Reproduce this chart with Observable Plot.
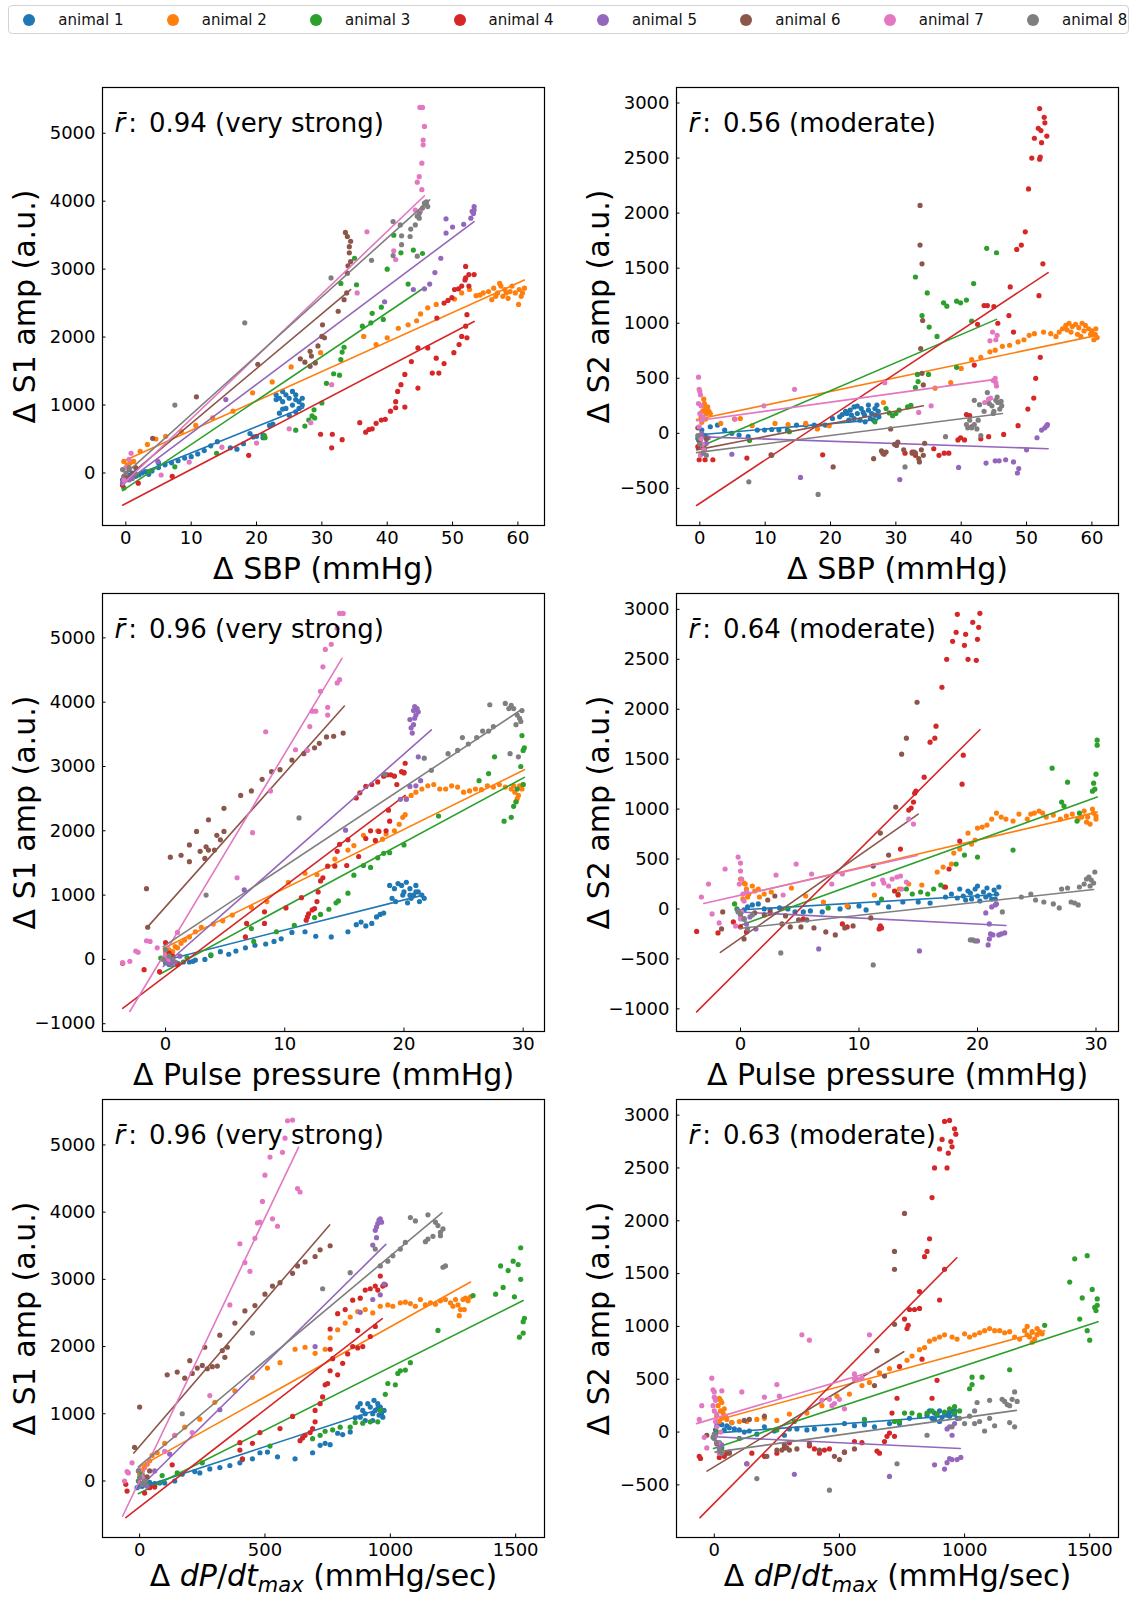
<!DOCTYPE html>
<html><head><meta charset="utf-8">
<script src="https://cdn.jsdelivr.net/npm/d3@7"></script>
<script src="https://cdn.jsdelivr.net/npm/@observablehq/plot@0.6"></script>
<style>
body{margin:0;background:#fff;font-family:"DejaVu Sans",sans-serif;}
#wrap{position:relative;width:1143px;height:1597px;overflow:hidden;}
#legend{position:absolute;left:8px;top:5px;width:1121px;height:29px;border:1px solid #d3d3d3;border-radius:4px;box-sizing:border-box;}
.item{position:absolute;top:0;height:27px;display:flex;align-items:center;font-size:15px;color:#111;white-space:nowrap;}
.dot{width:12px;height:12px;border-radius:50%;display:inline-block;margin-right:23px;}
.panel{position:absolute;width:564px;}
</style></head>
<body><div id="wrap"><div id="legend"></div></div>
<script>
const animals = ["animal 1","animal 2","animal 3","animal 4","animal 5","animal 6","animal 7","animal 8"];
const colors = ["#1f77b4","#ff7f0e","#2ca02c","#d62728","#9467bd","#8c564b","#e377c2","#7f7f7f"];

const xLabels = ["Δ SBP (mmHg)", "Δ Pulse pressure (mmHg)", "Δ dP/dt_max (mmHg/sec)"];
const yLabels = ["Δ S1 amp (a.u.)", "Δ S2 amp (a.u.)"];
const rValues = ["0.94 (very strong)", "0.56 (moderate)", "0.96 (very strong)", "0.64 (moderate)", "0.96 (very strong)", "0.63 (moderate)"];

const ticksSBP = [0,10,20,30,40,50,60];
const ticksPP = [0,10,20,30];
const ticksDP = [0,500,1000,1500];
const ticksS1a = [0,1000,2000,3000,4000,5000];
const ticksS1b = [-1000,0,1000,2000,3000,4000,5000];
const ticksS2a = [-500,0,500,1000,1500,2000,2500,3000];
const ticksS2b = [-1000,-500,0,500,1000,1500,2000,2500,3000];

// ---------- Panel 1: ΔSBP vs ΔS1 (flat x,y pairs per animal) ----------
const sbpS1Pts = [
[-0.5,-100,0,-50,0.5,-30,1,0,1.5,-50,2,-30,2.5,0,3,20,3.5,-20,4,30,5,80,5,150,6,120,7,150,8,180,9,220,10,240,11,280,12,330,13,400,14,460,16,370,17,350,18,430,19,580,19.5,530,20,540,21,520,21,560,22,700,22.5,720,23,1080,23,1150,23.5,1100,24,1200,24,1050,24.5,1150,24.5,950,25,1100,25,850,25.5,1200,25.5,1000,26,1080,26,900,26.5,1050,26.5,950,27,1000,27,1100,23.5,880,24,940,26,1150],
[-0.3,170,0.2,120,0.7,150,1.2,170,2.2,320,3.3,420,4.6,500,6.1,540,8.5,610,10.7,700,13.3,810,16.4,910,19.4,1180,22.4,1340,25.3,1560,29.8,1770,36.4,2010,38.3,1890,40,1990,41.7,2130,43.2,2180,44.5,2240,45.1,2340,46.2,2430,47.5,2480,50.3,2560,51.4,2650,52.6,2700,53.6,2610,54.2,2620,54.7,2650,55.5,2670,56,2550,56.3,2720,56.6,2600,56.9,2650,57.2,2790,57.4,2750,57.7,2600,58,2700,58.2,2650,58.5,2570,58.8,2670,59.1,2750,59.6,2650,60.1,2480,60.2,2700,60.5,2600,60.7,2650,61,2720],
[-0.3,-220,0.5,-100,1.6,-25,3.6,25,7.5,90,13.9,290,21.2,550,21.3,520,26,630,27.4,690,28,780,28.5,840,28.8,930,28.9,810,30,1030,30.7,1320,31.8,1460,32.7,1440,32.9,1670,33.1,1780,33.4,1850,32.9,2790,35,3160,35.3,2770,36.2,2160,37.5,2210,37.7,2350,39.1,2440,39.4,2260,40,3000,41,3500,42.1,3240,43.2,2780,44,3280,45.4,3230],
[-0.5,-180,1.9,-150,7.1,-50,18.8,260,29.8,570,31.5,370,31.6,570,33.1,490,35.8,740,36.7,600,37.2,640,37.7,650,38.3,730,39.1,780,39.7,790,40.5,910,41.3,960,41.3,1050,41.6,1200,42.1,1300,42.7,970,42.7,1450,43.7,1640,44.7,1250,44.7,1840,46.2,1840,46.9,1470,47.5,1690,47.6,2280,47.9,1470,48.7,1610,48.7,2500,49.3,2540,49.9,2580,50.2,1770,50.3,2700,50.9,2710,51,1890,51.4,2010,51.4,2750,51.9,2840,52,2870,52,3040,52.2,2330,52.2,1990,52,2160,52.5,2920,52.5,2750,53.3,2920],
[-0.5,-150,0,-50,0.5,-100,1,-80,4.9,170,15.3,1080,39.6,2520,44,2700,45.7,2710,46.5,2780,47.3,2950,48.2,3160,49,3530,49,3740,50,3620,51.7,3660,52.8,3750,53,3850,53.2,3820,53.3,3920,53.3,3870],
[-0.3,-50,0.5,50,1.5,80,4.1,510,10.8,1120,20.2,1600,26.7,1680,27.4,1630,28.2,1790,28.2,1570,28.4,1720,29,1620,29.4,1870,30,2010,30.4,1990,30.1,2180,32.5,2380,33.4,2550,33.8,2650,33.9,2940,34,3050,34.4,3110,34.2,3240,34.2,3330,34.4,3410,33.9,3480,33.6,3540],
[-0.3,-100,0.5,200,0.8,290,0,80,5.4,-30,9.7,160,14.7,380,20,440,25,650,28.3,740,31.5,1300,35.4,2650,36.9,3550,41,3270,41.3,3140,44.3,3870,44.6,4280,44.9,4360,45.1,3850,45.3,4170,45.3,4560,45.5,4830,45.5,4900,45.7,5100,45,5380,45.4,5380],
[-0.5,50,0,0,0.5,80,7.5,1000,18.2,2210,31.4,2870,37.6,3130,40.9,3700,40.9,3200,42,3650,42.2,3490,42.2,3360,43.5,3480,43.6,3590,44.3,3650,44.6,3780,44.6,3190,44.9,3750,44.9,3820,45.4,3900,45.7,3970,46,3990,46,3950,46.2,3920]
];
const sbpS1Fit = [[-0.5,-110,27.2,960],[-0.5,170,61,2840],[-0.5,-260,45.7,2730],[-0.5,-475,53.3,2230],[-0.5,-170,53.3,3700],[-0.5,-120,34.4,2700],[-0.5,-170,45.7,4080],[-0.5,-50,46.5,4020]];

// ---------- Panel 2: ΔSBP vs ΔS2 ----------
const sbpS2Pts = [
[-0.3,-45,0.3,30,0.8,-20,1.6,60,2.7,75,3.8,30,4.9,0,6,-15,7.4,-30,8.8,30,9.9,30,11,35,12.1,30,13.4,30,14.8,75,16.2,75,17.5,75,19.2,75,20.3,135,21.4,150,21.8,170,22.3,200,22.5,180,22.8,120,23,210,23.2,165,23.6,240,23.6,135,24.1,180,24.1,248,24.5,120,24.7,225,25,190,25.2,165,25.3,105,25.8,210,25.8,257,26.1,135,26.3,180,26.6,120,26.8,225,26.8,165,27.1,257,27.3,200,27.4,150],
[0.2,150,0.4,200,0.5,250,0.6,310,0.7,270,0.8,220,1,180,1.2,240,1.4,200,0.3,100,1.6,180,0.9,130,3.2,90,5.3,130,6.2,135,8,70,11.5,90,13.5,80,16.2,90,18,40,19.8,70,28.1,280,36,410,38.4,460,40,590,41.6,670,43,690,44.4,740,45.2,755,46.3,790,47.4,800,48.7,830,49.6,850,50.4,890,51.2,905,52.6,920,53.7,905,54.5,880,55,920,55.5,950,56,980,56.2,940,56.5,1000,56.8,920,57,970,57.5,990,57.8,900,58,960,58.3,880,58.5,1000,58.8,930,59,980,59.5,950,59.8,900,60,930,60.3,850,60.5,900,60.6,950,60.8,870],
[-0.2,-60,0.3,-30,0.8,-100,7.6,-65,13.7,15,26.8,105,28.5,225,29,185,29.5,160,30,180,30.5,210,31.8,240,32.3,255,33,415,33.4,470,33.3,535,33,1420,34,1070,34.8,1275,35,535,35.1,965,36.3,880,37.3,1185,37.8,1155,39.3,1200,39.3,600,39.9,1185,40.8,1210,41.6,1020,41.9,1360,43.9,1680,45.4,1640],
[-0.3,-120,-0.1,-240,0.8,-240,2,-240,7.2,-225,10.9,-195,18.8,-195,31.4,-180,32.5,-170,33,-200,35.8,-140,36.6,-200,37.4,-180,38.1,-180,39.5,-60,39.9,-40,40.5,-60,40.8,170,41.3,160,41.6,60,42,620,42.5,990,43,-50,43.5,1160,44,1160,44.2,-30,45,1150,45.6,1000,46.5,-10,47.3,1070,47.5,1330,48,920,48.5,1670,48.7,70,49.2,1710,49.8,1830,50.2,220,50.3,2220,50.8,2500,51.1,320,51.2,2680,51.4,500,51.8,2770,51.9,1250,52,2950,52,2490,52.1,690,52.1,2510,52.2,2750,52.3,2640,52.5,1540,52.7,2870,52.8,2820,53.1,2700],
[0,-60,0.4,-100,0.7,-150,1,-90,0.3,0,1.3,-40,4.9,-190,15.4,-400,30.6,-420,39.6,-310,43.8,-270,45.2,-250,45.8,-250,46.8,-240,48,-260,48.6,-360,48.8,-320,50,-150,51.6,-40,52.3,30,52.8,50,53.1,70,53.2,80],
[-0.3,50,0,-80,0.5,-120,1,-50,11,-200,20.4,-305,26.6,-230,27.8,-160,28,-180,28.2,-190,28.5,-170,29.2,40,29.8,-100,30.1,-110,30.3,-80,31.2,-150,32.5,-180,32.8,-170,33,-180,33.5,-230,33.6,-260,33.7,2070,33.7,1710,33.8,770,33.9,-150,34,1540,34,545,34.1,1025,34.2,440,34.2,-200,34.4,-90],
[-0.2,510,-0.1,400,0,380,0.1,350,-0.2,270,0.2,250,0,180,0.3,120,0.5,150,-0.1,60,0.2,-50,0.4,-100,0.6,-150,0.1,-200,5.4,130,9.8,250,14.5,400,28.3,460,33.5,190,35.4,250,43.6,280,44.2,310,44.4,840,44.5,320,44.8,920,44.9,480,45.2,500,45.3,850,45.3,460,45.4,430,45.5,890],
[-0.3,-20,0,-100,0.5,-180,1,-200,7.5,-440,18.1,-555,31.4,-305,37.6,-30,40.8,80,41,50,41.3,120,41.6,50,42,300,42,80,42.4,40,42.6,120,42.8,260,43,-20,43.5,200,44,370,44.3,270,44.7,250,44.9,180,45,200,45.3,300,45.5,330,45.6,280,45.9,220,46.1,290,46.2,250]
];
const sbpS2Fit = [[-0.5,-15,27.2,125],[-0.5,125,60.8,890],[-0.5,-135,45.4,1035],[-0.5,-655,53.3,1460],[-0.5,-30,53.3,-140],[-0.5,-150,34.2,250],[-0.5,115,45.2,490],[-0.5,-175,46.3,180]];

// ---------- Panel 3: ΔPulse pressure vs ΔS1 ----------
const ppS1Pts = [
[0,-50,0.3,-80,0.6,-30,1,-60,1.5,-40,2,-40,2.3,-30,2.5,-10,3.3,0,3.8,60,4.6,120,5.3,80,5.9,130,6.7,180,7.5,220,8.4,240,9.1,280,9.7,320,10.6,420,11.7,430,12.6,360,13.9,350,15.3,430,16,540,16.4,580,16.8,520,17.3,560,17.7,660,18,700,18.3,720,19,950,19.3,900,18.8,1150,19.2,1100,19.5,1180,19.8,1150,20,1050,20.2,1200,20.5,1100,20.6,950,20.8,1000,21,1150,21.2,1050,21.3,900,21.5,1000,21.7,950,20.3,880,19.9,1000,21,1050,20.5,1000],
[0,100,0.3,150,0.6,120,0.8,200,1,180,1.3,250,1.6,300,2,350,2.5,430,3,500,4,550,4.8,600,5.6,690,7.2,810,8.5,900,10.3,1200,11.7,1340,12.7,1320,14.2,1560,15.3,1700,15.8,1770,16.6,1930,17.8,2000,18.2,1870,18.5,1950,19.2,2000,19.6,2100,19.9,2210,20.1,2250,20.2,2500,20.6,2550,21,2600,21.5,2650,22,2700,22.5,2720,23,2650,23.5,2650,24,2700,24.5,2680,25,2600,25.5,2620,26,2650,26.5,2640,27,2700,27.5,2680,28,2720,28.5,2680,29,2650,29.3,2600,29.5,2500,29.4,2450,29.7,2700,30,2720,29.6,2550,29.2,2700,29.9,2650],
[-0.4,20,0,-50,0.5,-80,1,-60,1.8,30,3.8,70,7.2,480,7.4,280,9.3,430,10.8,530,12.5,650,13,700,13.7,780,14.3,880,14.5,910,15.3,1030,15.8,1310,16.6,1460,17.2,1430,17.8,1580,18.3,1650,18.8,1660,20,1780,22.9,2230,26.3,2780,27.1,2890,27.6,3150,28.4,2150,29,2210,29.2,2380,29.4,2450,29.5,2650,29.8,3000,30,3250,30.1,3290,29.9,3480,30,2720],
[-3.6,-60,-1.8,-160,-0.5,-190,0,260,0.3,100,0.6,50,1,-80,6.7,350,6.8,560,8.3,740,8.3,560,10.1,800,11.4,960,11.8,610,11.9,660,12,710,12.3,770,12.5,790,12.7,900,12.8,1050,13,1220,13.2,1270,13.6,1450,14.2,1450,14.4,1680,14.6,1790,15.2,1460,15.3,1860,16.2,1600,16.8,1880,17.2,2000,17.6,1850,17.9,1990,18.5,2000,18.8,2150,18.7,2320,16,2510,16.3,2590,16.8,2690,17.3,2720,17.8,2760,18.3,2850,18.6,2870,18.9,2870,19.2,2850,19.8,2920,20,2910,20.1,3050,19.4,2720,20,2900],
[0,-20,0.3,-60,0.5,-80,0.8,-40,1.2,50,6.6,1080,15.1,2010,19.7,2490,20.2,2490,20.5,2690,21,2700,21.4,2780,21.2,3150,20.7,3520,20.6,3600,20.8,3650,20.5,3730,20.9,3750,21,3800,20.8,3870,21.1,3900,20.9,3930,21.2,3850],
[-1.6,1100,-1.5,500,0.4,1590,1.3,1620,2,1780,2,1520,2.6,1990,2.9,1680,3.3,1570,3.4,1750,3.6,1700,4.1,1700,4.3,1930,4.6,1860,4.9,2350,4.9,1990,3.6,2170,6.3,2550,7.2,2620,8.1,2800,8.9,2920,9.6,2950,10.6,3100,11.6,3200,12.5,3290,12.9,3360,13.5,3460,14.1,3470,14.9,3520,0,150,0.3,60],
[-3.6,-50,-3,-30,-2.5,130,-2.3,110,-1.6,290,-1.3,280,-0.7,180,0,50,0.3,0,1,420,6,1270,7.3,1970,8.4,3540,8.8,2620,10.9,3260,11.9,3250,12.1,3620,12.3,3860,12.6,3860,13,4170,13.2,4550,13.4,4820,13.9,4900,13.6,3920,13.6,3800,14.4,4300,14.6,4350,14.4,5150,14.6,5380,14.9,5380],
[0,150,0.3,50,0.6,0,-0.2,0,3.4,1000,11.2,2200,18.4,2880,21.7,3130,22.3,2940,23.7,3200,24.5,3250,24.9,3450,25.4,3350,26.1,3450,26.6,3550,27.1,3550,27.5,3620,27.2,3960,28.5,3980,29,3950,29.2,3900,29.5,3800,29.7,3750,29.4,3650,29.8,3700,28.9,3200,29.6,3150,28.8,3900,29.9,3870]
];
const ppS1Fit = [[-0.2,-20,21.6,1000],[-0.2,170,30.1,2950],[-0.5,-230,30.1,2830],[-3.6,-760,20.1,2550],[-0.2,-110,22.3,3570],[-1.5,506,15,3940],[-3,-810,14.8,4680],[-0.2,200,29.9,3890]];

// ---------- Panel 4: ΔPulse pressure vs ΔS2 ----------
const ppS2Pts = [
[0,-30,0.3,-10,0.6,20,1,40,1.5,50,2,0,2.5,-10,3.3,10,4,0,4.6,-30,5.3,-30,5.9,-20,6.9,-30,8.4,0,9.1,20,10,30,10.6,-10,11.6,60,12.5,20,13.7,70,15,70,16,60,17.3,120,17.8,150,18.3,110,18.5,200,18.8,130,19,90,19.2,180,19.4,160,19.5,100,19.8,200,20,130,20,230,20.2,80,20.5,170,20.7,120,20.8,210,21,140,21.2,100,21.4,190,21.5,100,21.6,150,21.8,220],
[0,300,0.3,260,0.5,200,0.7,150,1,230,1.2,180,0.2,100,0.6,120,1.5,200,0.4,250,1.6,120,2,150,2.6,170,4.3,210,5.5,130,7,70,9,30,11.3,140,13.4,200,14.2,250,15.3,240,16.6,370,17.1,420,17.8,450,18,560,18.5,600,19.2,760,19.5,650,19.8,690,20,810,20.4,820,20.8,840,21.2,900,21.6,960,22,920,22.4,900,23,880,23.5,950,24.2,900,24.5,950,24.8,960,25.2,980,25.5,960,25.8,920,26.4,940,27,900,27.5,930,28,950,28.5,900,28.8,920,29,980,29.2,870,29.3,920,29.5,850,29.7,1000,29.8,960,30,930,30,900],
[-0.5,50,-0.3,0,0,-50,0.3,-100,7.4,10,11.9,100,13.3,150,14,200,14.5,150,15.2,170,15.8,150,16.3,200,16.9,240,17.2,220,18.2,450,18.9,540,20,520,23,590,26.3,1410,27.1,1070,27.3,1030,27.6,1270,28.4,880,28.6,960,29.7,1180,29.8,1260,29.9,1200,30,1350,30.1,1640,30.1,1690],
[-3.7,-225,-1.9,-240,-0.6,-130,0,-180,0.5,-230,2.5,-40,5.3,-100,8.6,-150,9,-180,11.8,-170,11.7,-200,11.9,-190,13,180,13.3,140,13.5,600,14.2,990,14.4,1010,14.6,1070,14.7,1160,14.8,1180,15.5,1320,16,1670,16.4,1710,16.5,1830,17,2220,17.3,220,17.4,2500,17.6,400,17.9,2680,18.2,2770,18.3,2950,18.5,680,18.7,1250,18.8,1540,18.9,2640,19,2750,19.2,2500,19.6,2870,19.9,2490,20,2700,20.1,2820,20.2,2960],
[0,-60,0.3,-100,0.5,-150,-0.2,-20,0.8,-80,1.3,-200,6.6,-400,15.1,-420,19.6,-310,20,-320,20.7,-40,20.9,-360,21,-300,21,-150,21.1,-250,21.2,20,21.5,40,21.3,-260,21.8,-260,22,-250,22.3,-240,21.6,50],
[-1.6,-200,-1.5,-30,0.3,-300,1.2,-40,2,-60,2.3,90,2.9,130,3.5,-150,3.8,-70,4.2,-180,4.9,-110,5.6,-110,5.1,-180,6.2,-190,7.2,-230,8,-260,8.8,-190,9.5,-170,11,-90,11.2,430,11.8,760,12.5,540,13.1,1020,13.6,1550,14,1710,14.9,2070],
[-3.3,120,-2.7,250,-2.4,-50,-1.8,-140,-1.3,400,-0.4,-170,-0.2,520,0,460,0,380,0.1,300,-0.1,250,0.2,150,0.3,80,0.1,-30,0,-100,0.5,170,3,340,3.6,140,4.7,450,6,350,7.7,250,8.6,350,11.2,250,12,290,12.1,260,12.5,230,12.8,300,13.2,320,13.5,330,13.6,200,14,270,14.2,900,14.6,850],
[0,-50,0.3,-100,-0.2,-30,0.6,-200,1,-60,3.4,-440,11.2,-560,19.4,-310,19.8,-320,22.1,-30,23.7,120,24.5,150,24.9,90,25.6,70,26.4,50,26.9,10,27.1,200,27.6,210,27.9,70,28.2,60,28.5,40,28.6,220,29,250,29.2,300,29.4,320,29.5,230,29.6,290,29.8,260,29.9,370]
];
const ppS2Fit = [[-0.1,-10,21.8,145],[0,135,30.1,970],[-0.5,-185,30.1,1120],[-3.7,-1030,20.2,1795],[-0.1,-30,22.4,-165],[-1.7,-435,15,950],[-3.1,55,14.9,535],[-0.1,-195,29.8,195]];

// ---------- Panel 5: ΔdP/dt max vs ΔS1 ----------
const dpS1Pts = [
[-10,-100,0,-50,10,-80,20,-30,30,-60,40,-20,50,-60,60,-40,80,-30,100,-30,140,0,170,100,220,140,240,120,280,180,320,200,360,230,400,270,410,320,450,330,480,420,510,430,550,360,620,330,690,420,720,530,740,560,760,540,790,710,810,690,840,730,860,940,870,1100,880,1150,880,950,890,1050,900,1000,900,900,910,1150,920,1100,930,900,930,1000,935,1200,940,1050,950,1150,950,1080,955,980,960,1100,965,1000,970,950,975,1050],
[0,100,10,150,20,200,30,250,40,300,50,380,70,420,100,560,140,680,180,800,240,920,300,1170,380,1340,450,1540,510,1680,560,1760,620,1960,660,1990,700,1900,740,1960,760,2130,790,2250,820,2350,840,2440,870,2520,900,2550,930,2500,960,2600,990,2620,1010,2600,1040,2650,1060,2660,1080,2640,1100,2600,1120,2700,1140,2620,1160,2650,1180,2630,1200,2680,1220,2700,1240,2650,1250,2600,1260,2700,1270,2620,1275,2460,1280,2550,1290,2700,1295,2550,1300,2720,1310,2680,1320,2740],
[-5,0,10,100,30,-50,60,-80,90,80,150,120,250,270,520,520,690,630,720,680,740,740,770,760,800,800,840,800,860,870,890,860,920,880,950,880,960,1050,980,1290,990,1450,1020,1430,1030,1600,1040,1640,1060,1650,1080,1760,1190,2240,1330,2760,1420,2780,1440,3200,1450,2880,1470,3130,1490,3270,1495,2740,1510,3220,1515,2140,1520,3000,1520,3470,1530,2200,1530,2370,1535,2420],
[-55,-50,-50,-150,20,-180,40,-100,60,-90,130,240,400,460,400,570,410,330,450,560,480,720,560,780,610,960,640,600,650,640,660,680,680,720,690,780,700,880,700,1050,720,1150,730,1250,740,1430,750,1450,760,1640,770,1820,760,1960,790,1580,810,1750,830,1890,850,2000,870,1980,870,2240,890,2000,920,2150,940,2300,760,2260,790,2490,820,2550,850,2690,880,2720,900,2840,920,2860,940,2900,950,2840,960,3050,970,2900,980,2920],
[0,-20,10,-50,20,50,30,-80,60,150,120,400,320,1060,700,2000,880,2510,930,2700,960,2770,975,2930,930,3510,940,3730,945,3620,950,3830,955,3880,960,3900,945,3780,965,3850],
[-20,500,0,1100,30,60,40,150,110,1580,150,1620,180,1530,200,1790,210,1600,230,1680,250,1720,260,1990,270,1670,290,1700,310,1710,320,2170,330,1940,340,1840,350,1990,380,2350,420,2530,460,2610,500,2780,530,2900,560,2950,610,3090,630,3200,660,3260,700,3340,720,3440,760,3500],
[-60,0,-45,120,-50,140,-30,270,0,170,10,50,20,0,100,440,140,680,210,720,280,1270,360,2620,400,3530,420,3250,440,3120,460,3610,470,3840,480,3850,490,4160,500,4550,520,4820,530,3900,550,3790,570,4890,580,5100,590,5360,610,5370,630,4350,640,4300],
[0,50,10,-50,-5,150,20,0,170,1000,450,2200,730,2860,840,3100,940,3450,960,3200,990,3270,1010,3350,1040,3450,1060,3550,1080,3920,1100,3870,1140,3560,1150,3960,1150,3600,1170,3640,1180,3850,1190,3800,1200,3700,1200,3650,1210,3750,1210,3180,1220,3200]
];
const dpS1Fit = [[-10,-115,940,1050],[0,210,1320,2960],[-5,-190,1530,2685],[-55,-545,968,2415],[-5,-115,982,3520],[-23,415,758,3810],[-68,-525,634,4965],[-5,210,1206,3990]];

// ---------- Panel 6: ΔdP/dt max vs ΔS2 ----------
const dpS2Pts = [
[0,-40,5,20,10,60,20,80,30,70,40,20,50,60,60,40,70,90,80,30,100,20,120,0,140,10,170,-20,200,50,240,10,280,-30,300,30,330,30,370,20,400,30,450,20,480,20,520,80,560,60,600,70,640,50,700,80,740,80,780,130,820,150,850,160,860,200,870,130,880,180,880,120,890,160,900,200,900,100,910,140,920,180,930,160,940,150,940,190,950,200,960,170,960,200,970,130],
[10,150,15,250,20,320,20,100,25,200,25,300,30,280,30,130,35,180,40,220,45,150,50,120,70,90,100,100,130,100,170,120,200,130,250,110,300,170,370,180,430,250,490,340,540,360,590,440,620,470,660,560,700,600,740,620,770,680,790,720,820,780,840,800,860,860,880,880,900,900,920,920,950,900,970,880,1000,930,1020,900,1040,920,1060,940,1080,960,1100,980,1120,960,1140,960,1160,940,1180,950,1200,900,1220,880,1240,960,1250,920,1250,1000,1260,900,1270,950,1270,850,1280,880,1290,920,1290,980,1300,950,1310,930],
[-3,-50,10,0,20,-100,30,-150,100,-60,250,20,320,100,600,120,720,100,740,100,760,180,790,180,820,160,850,180,870,200,890,170,920,190,940,220,960,180,960,240,980,200,1020,410,1030,450,1030,520,1070,520,1180,590,1320,1010,1420,1420,1440,1640,1460,1070,1470,1270,1490,1670,1490,960,1500,870,1510,1350,1520,1180,1525,1150,1530,1260,1530,1200],
[-60,-230,-55,-250,20,-240,40,-230,50,-200,130,-300,150,-200,200,-230,250,-200,280,-150,300,-100,380,-130,400,-160,420,-200,440,-170,460,-160,520,-190,560,-90,590,-100,650,-180,660,-200,680,-90,690,-40,700,-10,710,180,720,-40,730,320,740,620,760,1070,770,980,775,1010,780,1160,800,1160,820,1330,820,1170,830,690,840,1660,850,1710,860,1830,870,2220,870,320,880,2500,890,490,900,2680,900,1250,910,2770,920,1540,920,2940,930,2500,935,2640,940,2950,945,2750,950,2700,960,2870,965,2820],
[0,-60,10,-100,20,-150,5,-30,30,-120,60,-190,130,-300,320,-400,700,-420,880,-310,920,-350,930,-290,940,-250,950,-260,970,-260,985,-240,930,30,940,50,960,80,950,-30],
[-30,-30,10,-110,60,-200,120,110,140,120,200,150,210,-230,250,-170,270,-170,280,-120,290,-150,300,-170,330,-160,380,-110,420,-170,480,-230,500,-260,520,-190,560,-160,640,440,650,770,680,530,720,1020,720,1540,720,1710,760,2070],
[-60,120,-50,250,-40,-50,-30,-150,-10,510,-5,400,0,380,0,330,5,300,-5,250,0,200,10,170,5,100,10,50,0,-30,15,-100,20,-200,25,0,30,390,110,380,200,330,250,450,260,340,350,920,380,870,430,300,460,310,470,250,480,270,500,310,520,220,560,550,560,500,570,500,590,510,620,920],
[0,-20,10,-100,-5,-50,20,-180,30,-200,170,-440,460,-550,730,-300,850,-30,950,50,980,130,1000,80,1020,150,1040,80,1040,200,1050,280,1060,100,1080,10,1100,300,1100,130,1120,60,1150,310,1160,290,1170,260,1180,250,1180,90,1190,310,1200,380,1200,50,1210,290]
];
const dpS2Fit = [[0,-10,957,155],[5,110,1320,960],[-3,-155,1533,1045],[-57,-810,969,1650],[3,-45,983,-155],[-29,-370,757,760],[-71,80,621,565],[3,-190,1207,205]];

// ---------- Layout ----------
const FW = 442, FH = 438, ML = 102, MR = 20, MT = 10, MB = 70;
const fmt = d => d < 0 ? "\u2212" + (-d) : String(d);

const panels = [
  {pts: sbpS1Pts, fit: sbpS1Fit, xd: [-3.57, 64.07], yd: [-773, 5673], xt: ticksSBP, yt: ticksS1a, xl: xLabels[0], yl: yLabels[0], r: rValues[0], left: 0, top: 76.7, ldy: 53},
  {pts: sbpS2Pts, fit: sbpS2Fit, xd: [-3.57, 64.07], yd: [-837, 3141], xt: ticksSBP, yt: ticksS2a, xl: xLabels[0], yl: yLabels[1], r: rValues[1], left: 573.7, top: 76.7, ldy: 53},
  {pts: ppS1Pts, fit: ppS1Fit, xd: [-5.29, 31.79], yd: [-1121, 5690], xt: ticksPP, yt: ticksS1b, xl: xLabels[1], yl: yLabels[0], r: rValues[2], left: 0, top: 582.7, ldy: 53},
  {pts: ppS2Pts, fit: ppS2Fit, xd: [-5.4, 31.9], yd: [-1227, 3159], xt: ticksPP, yt: ticksS2b, xl: xLabels[1], yl: yLabels[1], r: rValues[3], left: 573.7, top: 582.7, ldy: 53},
  {pts: dpS1Pts, fit: dpS1Fit, xd: [-148, 1615], yd: [-841, 5676], xt: ticksDP, yt: ticksS1a, xl: xLabels[2], yl: yLabels[0], r: rValues[4], left: 0, top: 1088.7, ldy: 48},
  {pts: dpS2Pts, fit: dpS2Fit, xd: [-151, 1615], yd: [-998, 3148], xt: ticksDP, yt: ticksS2a, xl: xLabels[2], yl: yLabels[1], r: rValues[5], left: 573.7, top: 1088.7, ldy: 48}
];

const wrap = document.getElementById("wrap");

// legend
const legend = document.getElementById("legend");
animals.forEach((a, i) => {
  const it = document.createElement("div");
  it.className = "item";
  it.style.left = (14.3 + i * 143.4) + "px";
  it.innerHTML = `<span class="dot" style="background:${colors[i]}"></span>${a}`;
  legend.appendChild(it);
});

panels.forEach(cfg => {
  const marks = [];
  cfg.pts.forEach((flat, i) => {
    const pts = [];
    for (let k = 0; k < flat.length; k += 2) pts.push({x: flat[k], y: flat[k + 1]});
    marks.push(Plot.dot(pts, {x: "x", y: "y", r: 2.6, fill: colors[i], stroke: "none"}));
    const f = cfg.fit[i];
    marks.push(Plot.line([{x: f[0], y: f[1]}, {x: f[2], y: f[3]}], {x: "x", y: "y", stroke: colors[i], strokeWidth: 1.6}));
  });
  marks.push(Plot.tickX(cfg.xt, {x: d => d, insetTop: FH - 3.5, stroke: "black", strokeWidth: 1}));
  marks.push(Plot.tickY(cfg.yt, {y: d => d, insetRight: FW - 3.5, stroke: "black", strokeWidth: 1}));
  marks.push(Plot.frame({stroke: "black", strokeWidth: 1.2}));
  marks.push(Plot.axisX(cfg.xt, {anchor: "bottom", tickSize: 0, tickPadding: 6, fontSize: 18, tickFormat: fmt, label: null}));
  marks.push(Plot.axisY(cfg.yt, {anchor: "left", tickSize: 0, tickPadding: 7, fontSize: 18, tickFormat: fmt, label: null}));
  marks.push(Plot.text([cfg.r], {text: d => "r\u0304 : " + d, frameAnchor: "top-left", textAnchor: "start", lineAnchor: "bottom", dx: 12, dy: 44, fontSize: 26, fill: "black"}));
  marks.push(Plot.text([cfg.xl], {text: d => d, frameAnchor: "bottom", textAnchor: "middle", lineAnchor: "bottom", dy: cfg.ldy, fontSize: 30, fill: "black"}));
  marks.push(Plot.text([cfg.yl], {text: d => d, frameAnchor: "left", textAnchor: "middle", rotate: -90, dx: -77, fontSize: 30, fill: "black"}));

  const chart = Plot.plot({
    width: ML + FW + MR, height: MT + FH + MB,
    marginLeft: ML, marginRight: MR, marginTop: MT, marginBottom: MB,
    x: {domain: cfg.xd, label: null},
    y: {domain: cfg.yd, label: null},
    style: {background: "transparent", fontFamily: "DejaVu Sans", overflow: "visible", color: "black"},
    marks
  });

  // mathtext-like styling of the annotation and the dP/dt label
  d3.select(chart).selectAll("text").each(function() {
    const s = this.textContent;
    if (s.startsWith("r\u0304 : ")) {
      const t = s.replace("r\u0304 : ", "");
      this.innerHTML = `<tspan font-style="italic">r\u0304</tspan><tspan dx="3">:</tspan><tspan dx="12">${t}</tspan>`;
    } else if (s.includes("dP/dt_max")) {
      const rest = s.split("dP/dt_max")[1];
      this.innerHTML = `<tspan>Δ </tspan><tspan font-style="italic">dP</tspan><tspan>/</tspan><tspan font-style="italic">dt</tspan><tspan font-style="italic" font-size="21" dy="6">max</tspan><tspan dy="-6">${rest}</tspan>`;
    }
  });

  const div = document.createElement("div");
  div.className = "panel";
  div.style.left = cfg.left + "px";
  div.style.top = cfg.top + "px";
  div.appendChild(chart);
  wrap.appendChild(div);
});
</script>
</body></html>
